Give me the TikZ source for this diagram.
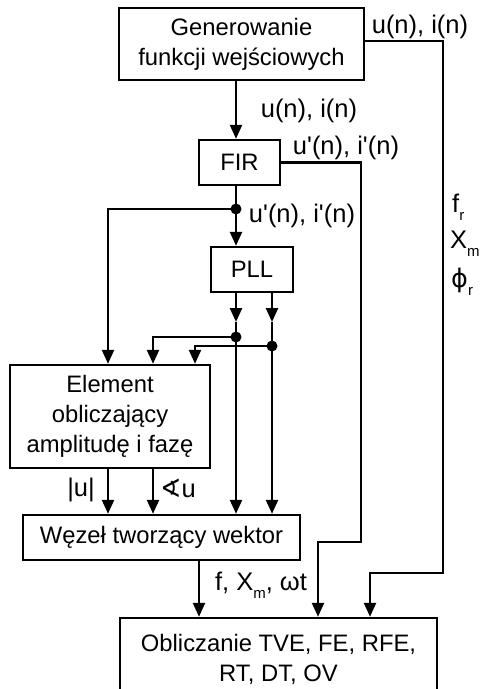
\documentclass[tikz,border=0pt]{standalone}
\usepackage{fontspec}
\setmainfont{Liberation Sans}
\newfontfamily\symfont{DejaVu Sans}
\usetikzlibrary{arrows.meta}
\newcommand\lsub[1]{\raisebox{-0.3em}{\fontsize{15}{15}\selectfont #1}}
\newcommand\qs{\textquotesingle}
\begin{document}
\begin{tikzpicture}[x=1pt,y=-1pt, line width=2.4pt,
 box/.style={draw, inner sep=0pt, align=center, font=\fontsize{23.8}{30}\selectfont},
 lbl/.style={inner sep=0pt, font=\fontsize{25.5}{30}\selectfont},
 arr/.style={-{Triangle[length=14pt,width=12pt]}},
 dot/.style={circle, fill, inner sep=0pt, minimum size=11pt}]
\clip (0,0) rectangle (485,689);
\node[box, minimum width=245pt, minimum height=72pt] (top) at (241.5,44) {Generowanie\\funkcji wejściowych};
\node[box, minimum width=81pt, minimum height=45pt] (fir) at (239.5,162.5) {FIR};
\node[box, minimum width=82pt, minimum height=45pt] (pll) at (252,269.5) {PLL};
\node[box, minimum width=200pt, minimum height=103pt] (el) at (110,416.5) {Element\\obliczający\\amplitudę i fazę};
\node[box, minimum width=277pt, minimum height=45pt] (wez) at (161.5,537.5) {Węzeł tworzący wektor};
\node[box, minimum width=317pt, minimum height=82pt] (bot) at (278.5,659) {Obliczanie TVE, FE, RFE,\\RT, DT, OV};
\node[dot] (d1) at (236,209) {};
\node[dot] (d2) at (236,337) {};
\node[dot] (d3) at (272,346) {};
\coordinate (xa) at (236,0);
\coordinate (p1) at (236,322);
\coordinate (p2) at (272,322);
\coordinate (e1) at (108,209);
\coordinate (e2) at (153,337);
\coordinate (e3) at (195,346);
\coordinate (r1) at (443,573);
\coordinate (r2) at (370,573);
\coordinate (s1) at (361,542);
\coordinate (s2) at (318,542);
\coordinate (o1) at (108,0);
\coordinate (o2) at (153,0);
\coordinate (w1) at (199,0);
\draw[arr] (top.south -| xa) -- (fir.north -| xa);
\draw (fir.south -| xa) -- (d1.center);
\draw[arr] (d1.center) -- (pll.north -| xa);
\draw[arr] (d1.center) -- (e1) -- (el.north -| e1);
\draw[arr] (pll.south -| p1) -- (p1);
\draw[arr] (pll.south -| p2) -- (p2);
\draw[arr] (p1) -- (wez.north -| p1);
\draw[arr] (p2) -- (wez.north -| p2);
\draw[arr] (d2.center) -- (e2) -- (el.north -| e2);
\draw[arr] (d3.center) -- (e3) -- (el.north -| e3);
\draw[arr] (el.south -| o1) -- (wez.north -| o1);
\draw[arr] (el.south -| o2) -- (wez.north -| o2);
\draw[arr] (wez.south -| w1) -- (bot.north -| w1);
\draw[arr] ([yshift=3pt]top.east) -| (r1) -- (r2) -- (bot.north -| r2);
\draw[arr] (fir.east) -| (s1) -- (s2) -- (bot.north -| s2);
\node[lbl] (l1) at (420,27) {u(n), i(n)};
\node[lbl] (l2) at (309,111) {u(n), i(n)};
\node[lbl] (l3) at (346,148) {u\qs(n), i\qs(n)};
\node[lbl] (l4) at (302,216) {u\qs(n), i\qs(n)};
\node[lbl, anchor=west] (l5) at (451,207) {f\lsub{r}};
\node[lbl, anchor=west] (l6) at (449,244) {X\lsub{m}};
\node[lbl, anchor=west] (l7) at (450,282) {{\symfont ϕ}\lsub{r}};
\node[lbl] (l8) at (81,490) {|u|};
\node[lbl] (l9) at (178,488) {{\symfont ∢}u};
\node[lbl] (l10) at (261,585) {f, X\lsub{m}, ωt};
\end{tikzpicture}
\end{document}
